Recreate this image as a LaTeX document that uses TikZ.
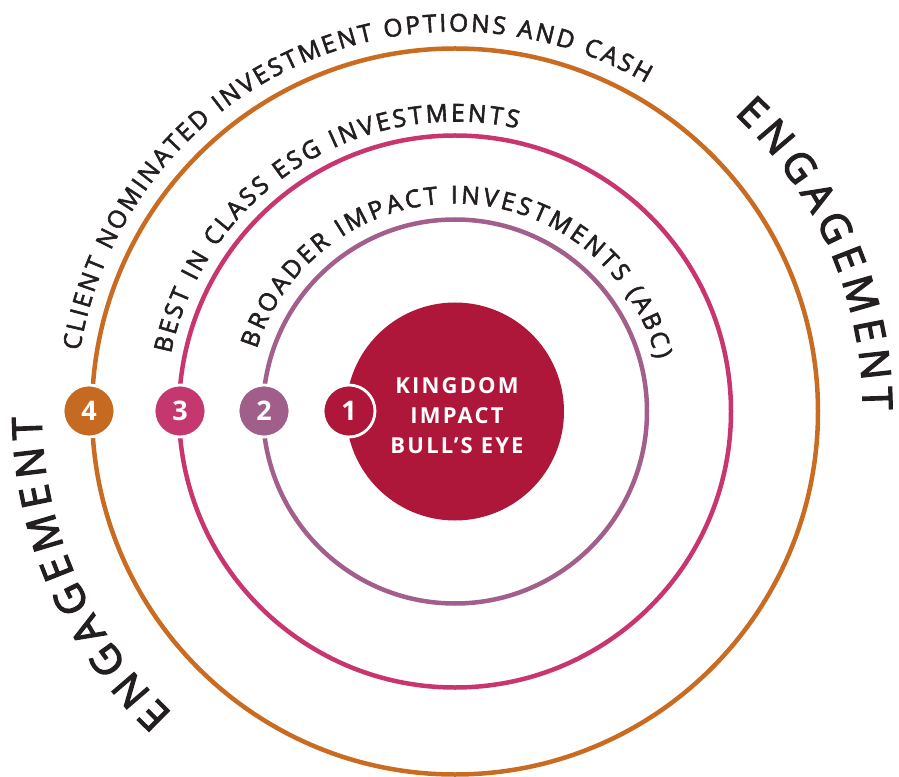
\documentclass[tikz,border=0pt]{standalone}
\usepackage{fontspec}
\setmainfont{Open Sans}
\newfontfamily\arcfont{Open Sans}[FakeBold=2.4]
\newfontfamily\engfont{Open Sans}[FakeBold=3]
\usetikzlibrary{decorations.text}

\definecolor{ink}{HTML}{231F20}
\definecolor{ringfour}{HTML}{C96B21}
\definecolor{ringthree}{HTML}{C8356F}
\definecolor{ringtwo}{HTML}{A35F8B}
\definecolor{bullred}{HTML}{AE1739}
\definecolor{badgefour}{HTML}{C66A22}
\definecolor{badgethree}{HTML}{C4376F}
\definecolor{badgetwo}{HTML}{A05E8A}

\tikzset{
  ring/.style={line width=4.5pt},
  badge/.style={circle, draw=white, line width=2.8pt, minimum size=52pt,
    inner sep=0pt, text=white, font=\bfseries\fontsize{27}{27}\selectfont},
  arclabel/.style={decorate, decoration={text along path, text align={fit to path},
    text={|\arcfont\fontsize{24.5}{28}\selectfont\color{ink}|#1}}},
  engagelabel/.style={decorate, decoration={text along path, text align={fit to path},
    text={|\engfont\fontsize{41}{44}\selectfont\color{ink}|#1}}}
}

\begin{document}
\begin{tikzpicture}[x=1pt, y=1pt]
\useasboundingbox (-455,-364.5) rectangle (444,411.5);

% concentric rings
\draw[ring, ringfour]  (0,0) circle[radius=363];
\draw[ring, ringthree] (0,0) circle[radius=276];
\draw[ring, ringtwo]   (0,0) circle[radius=192];

% bull's eye
\node[circle, fill=bullred, minimum size=218pt, inner sep=0pt] (bull) at (0,0) {};
\node[text=white, align=center, inner sep=0pt,
  font=\bfseries\addfontfeatures{LetterSpace=10}\fontsize{22}{30}\selectfont]
  (bulltext) at ([shift={(2,-4)}]bull.center)
  {KINGDOM\\IMPACT\\BULL’S EYE};

% numbered badges on the rings
\node[badge, fill=badgefour]  (b4) at (-366,0.5) {4};
\node[badge, fill=badgethree] (b3) at (-275,0.5) {3};
\node[badge, fill=badgetwo]   (b2) at (-191,0.5) {2};
\node[badge, fill=bullred]    (b1) at (-106,0.5) {1};

% ring captions
\path[arclabel={CLIENT NOMINATED INVESTMENT OPTIONS AND CASH}]
  (170.8:380) arc[start angle=170.8, end angle=59.8, radius=380];
\path[arclabel={BEST IN CLASS ESG INVESTMENTS}]
  (168.5:290) arc[start angle=168.5, end angle=77.5, radius=290];
\path[arclabel={BROADER IMPACT INVESTMENTS (ABC)}]
  (162.5:208) arc[start angle=162.5, end angle=14.5, radius=208];

% engagement labels
\path[engagelabel={ENGAGEMENT}]
  (46.8:408) arc[start angle=46.8, end angle=0.2, radius=408];
\path[engagelabel={ENGAGEMENT}]
  (226.9:413.5) arc[start angle=226.9, end angle=180.7, radius=413.5];
\end{tikzpicture}
\end{document}
